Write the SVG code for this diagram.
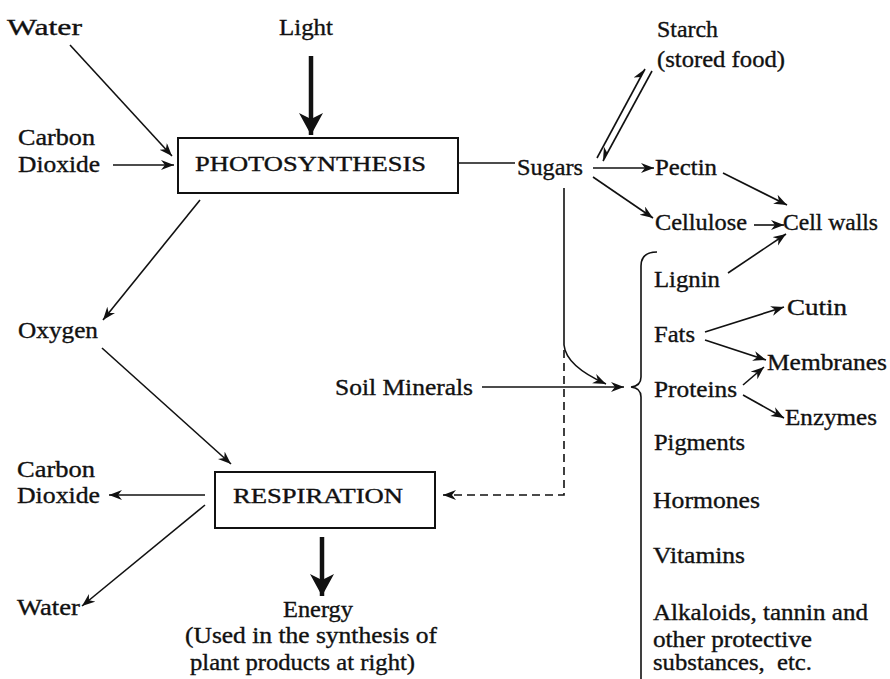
<svg xmlns="http://www.w3.org/2000/svg" width="890" height="679" viewBox="0 0 890 679">
<style>
text{font-family:"Liberation Serif","Times New Roman",serif;font-size:23px;fill:#111;stroke:#111;stroke-width:0.35}
.cap{font-size:20.5px}
.ln{stroke:#111;stroke-width:1.6;fill:none}
.thick{stroke:#111;stroke-width:4.5;fill:none}
.box{stroke:#111;stroke-width:2;fill:#fff}
.dash{stroke:#111;stroke-width:1.6;fill:none;stroke-dasharray:8 5}
</style>
<defs>
<marker id="a" markerUnits="userSpaceOnUse" markerWidth="16" markerHeight="12" refX="13" refY="5" orient="auto">
<path d="M0,0 L13,5 L0,10 L4,5 z" fill="#111"/>
</marker>
<marker id="big" markerUnits="userSpaceOnUse" markerWidth="26" markerHeight="26" refX="22" refY="12" orient="auto">
<path d="M0,0 L22,12 L0,24 L6,12 z" fill="#111"/>
</marker>
<marker id="hu" markerUnits="userSpaceOnUse" markerWidth="16" markerHeight="12" refX="13" refY="6" orient="auto">
<path d="M0,0 L13,6 L4,6 z" fill="#111"/>
</marker>
<marker id="hd" markerUnits="userSpaceOnUse" markerWidth="16" markerHeight="12" refX="13" refY="1" orient="auto">
<path d="M0,7 L13,1 L4,1 z" fill="#111"/>
</marker>
</defs>

<g id="connectors">
<line class="ln" x1="70" y1="45" x2="172" y2="156" marker-end="url(#a)"/>
<line class="ln" x1="113" y1="165" x2="174" y2="165" marker-end="url(#a)"/>
<line class="thick" x1="311" y1="56" x2="311" y2="135" marker-end="url(#big)"/>
<line class="ln" x1="458" y1="163" x2="515" y2="163"/>
<line class="ln" x1="597" y1="158" x2="645" y2="69" marker-end="url(#hu)"/>
<line class="ln" x1="652" y1="71" x2="603" y2="161" marker-end="url(#hd)"/>
<line class="ln" x1="593" y1="168" x2="654" y2="168" marker-end="url(#a)"/>
<line class="ln" x1="593" y1="177" x2="653" y2="218" marker-end="url(#a)"/>
<line class="ln" x1="723" y1="173" x2="787" y2="205" marker-end="url(#a)"/>
<line class="ln" x1="754" y1="225" x2="784" y2="225" marker-end="url(#a)"/>
<line class="ln" x1="728" y1="273" x2="786" y2="234" marker-end="url(#a)"/>
<line class="ln" x1="705" y1="332" x2="784" y2="307" marker-end="url(#a)"/>
<line class="ln" x1="705" y1="340" x2="766" y2="360" marker-end="url(#a)"/>
<line class="ln" x1="743" y1="385" x2="764" y2="367" marker-end="url(#a)"/>
<line class="ln" x1="743" y1="395" x2="784" y2="418" marker-end="url(#a)"/>
<path class="ln" d="M564,188 L564,345 Q566,366 606,384" marker-end="url(#a)"/>
<line class="ln" x1="482" y1="387" x2="624" y2="387" marker-end="url(#a)"/>
<path class="dash" d="M564,350 L564,495 L447,495"/>
<path class="ln" d="M452,495 L443,495" marker-end="url(#a)"/>
<line class="ln" x1="200" y1="200" x2="103" y2="320" marker-end="url(#a)"/>
<line class="ln" x1="102" y1="348" x2="231" y2="464" marker-end="url(#a)"/>
<line class="ln" x1="205" y1="495" x2="109" y2="495" marker-end="url(#a)"/>
<line class="ln" x1="205" y1="505" x2="82" y2="606" marker-end="url(#a)"/>
<line class="thick" x1="322" y1="537" x2="322" y2="596" marker-end="url(#big)"/>
<path class="ln" d="M657,252 Q641,252 641,266 L641,377 Q641,386 631,387 Q641,388 641,397 L641,682"/>
</g>

<g id="water-in"><text x="7" y="35" textLength="75" lengthAdjust="spacingAndGlyphs">Water</text></g>
<g id="light"><text x="279" y="35" textLength="54" lengthAdjust="spacingAndGlyphs">Light</text></g>
<g id="co2-in"><text x="18" y="145" textLength="77" lengthAdjust="spacingAndGlyphs">Carbon</text><text x="18" y="172" textLength="82" lengthAdjust="spacingAndGlyphs">Dioxide</text></g>
<g id="photosynthesis"><rect class="box" x="178" y="138" width="280" height="55"/><text class="cap" x="195" y="171" textLength="231" lengthAdjust="spacingAndGlyphs">PHOTOSYNTHESIS</text></g>
<g id="sugars"><text x="517" y="175" textLength="66" lengthAdjust="spacingAndGlyphs">Sugars</text></g>
<g id="starch"><text x="657" y="37" textLength="61" lengthAdjust="spacingAndGlyphs">Starch</text><text x="657" y="67" textLength="128" lengthAdjust="spacingAndGlyphs">(stored food)</text></g>
<g id="pectin"><text x="655" y="175" textLength="62" lengthAdjust="spacingAndGlyphs">Pectin</text></g>
<g id="cellulose"><text x="655" y="230" textLength="92" lengthAdjust="spacingAndGlyphs">Cellulose</text></g>
<g id="cellwalls"><text x="783" y="230" textLength="95" lengthAdjust="spacingAndGlyphs">Cell walls</text></g>
<g id="oxygen"><text x="18" y="338" textLength="80" lengthAdjust="spacingAndGlyphs">Oxygen</text></g>
<g id="soil"><text x="335" y="395" textLength="138" lengthAdjust="spacingAndGlyphs">Soil Minerals</text></g>
<g id="lignin"><text x="654" y="287" textLength="66" lengthAdjust="spacingAndGlyphs">Lignin</text></g>
<g id="fats"><text x="654" y="342" textLength="41" lengthAdjust="spacingAndGlyphs">Fats</text></g>
<g id="cutin"><text x="787" y="315" textLength="60" lengthAdjust="spacingAndGlyphs">Cutin</text></g>
<g id="membranes"><text x="767" y="370" textLength="120" lengthAdjust="spacingAndGlyphs">Membranes</text></g>
<g id="proteins"><text x="654" y="397" textLength="83" lengthAdjust="spacingAndGlyphs">Proteins</text></g>
<g id="enzymes"><text x="785" y="425" textLength="92" lengthAdjust="spacingAndGlyphs">Enzymes</text></g>
<g id="pigments"><text x="654" y="450" textLength="91" lengthAdjust="spacingAndGlyphs">Pigments</text></g>
<g id="hormones"><text x="653" y="508" textLength="107" lengthAdjust="spacingAndGlyphs">Hormones</text></g>
<g id="vitamins"><text x="653" y="563" textLength="92" lengthAdjust="spacingAndGlyphs">Vitamins</text></g>
<g id="alkaloids"><text x="653" y="620" textLength="215" lengthAdjust="spacingAndGlyphs">Alkaloids, tannin and</text><text x="653" y="647" textLength="159" lengthAdjust="spacingAndGlyphs">other protective</text><text x="653" y="670" textLength="159" lengthAdjust="spacingAndGlyphs" xml:space="preserve">substances,  etc.</text></g>
<g id="co2-out"><text x="17" y="477" textLength="78" lengthAdjust="spacingAndGlyphs">Carbon</text><text x="17" y="503" textLength="83" lengthAdjust="spacingAndGlyphs">Dioxide</text></g>
<g id="respiration"><rect class="box" x="215" y="472" width="220" height="56"/><text class="cap" x="233" y="503" textLength="170" lengthAdjust="spacingAndGlyphs">RESPIRATION</text></g>
<g id="water-out"><text x="17" y="615" textLength="63" lengthAdjust="spacingAndGlyphs">Water</text></g>
<g id="energy"><text x="283" y="617" textLength="70" lengthAdjust="spacingAndGlyphs">Energy</text><text x="185" y="643" textLength="252" lengthAdjust="spacingAndGlyphs">(Used in the synthesis of</text><text x="190" y="670" textLength="225" lengthAdjust="spacingAndGlyphs">plant products at right)</text></g>
</svg>
